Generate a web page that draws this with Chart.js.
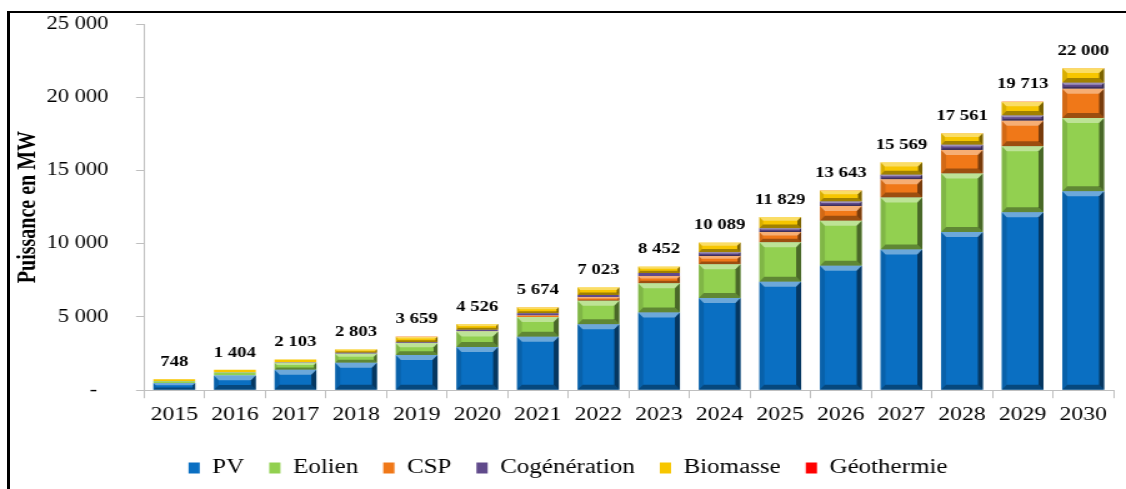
<!DOCTYPE html>
<html>
<head>
<meta charset="utf-8">
<script src="https://cdn.jsdelivr.net/npm/chart.js@4.4.1/dist/chart.umd.min.js"></script>
<style>
  html, body { margin: 0; padding: 0; background: #fff; overflow: hidden; }
  body { width: 1126px; height: 489px; position: relative; }
  /* the source picture is stretched horizontally, so the chart is drawn narrower and scaled */
  #wrap { position: absolute; left: 0; top: 0; width: 901px; height: 489px;
          transform: scaleX(1.2497); transform-origin: 0 0; }
  #frame { position: absolute; left: 7px; top: 11px; right: -10px; bottom: -10px;
           border-left: 3px solid #000; border-top: 2px solid #000; pointer-events: none; }
</style>
</head>
<body>
<div id="wrap"><canvas id="chart"></canvas></div>
<div id="frame"></div>
<script>
// --- DATA ---
const years = ['2015', '2016', '2017', '2018', '2019', '2020', '2021', '2022',
               '2023', '2024', '2025', '2026', '2027', '2028', '2029', '2030'];
const pv          = [500, 1000, 1400, 1870, 2400, 2950, 3650, 4500, 5300, 6300, 7400, 8500, 9600, 10800, 12150, 13575];
const eolien      = [110, 200, 470, 620, 800, 1050, 1350, 1600, 2000, 2300, 2700, 3075, 3550, 4000, 4500, 5010];
const csp         = [2, 1, 2, 2, 2, 25, 100, 250, 500, 570, 700, 1000, 1250, 1600, 1750, 2000];
const cogen       = [15, 22, 40, 60, 75, 100, 150, 150, 200, 250, 250, 300, 300, 350, 350, 400];
const biomasse    = [120, 180, 190, 250, 380, 398, 420, 520, 447, 664, 774, 760, 859, 799, 949, 1000];
const geothermie  = [1, 1, 1, 1, 2, 3, 4, 3, 5, 5, 5, 8, 10, 12, 14, 15];
const totals      = [748, 1404, 2103, 2803, 3659, 4526, 5674, 7023, 8452, 10089, 11829, 13643, 15569, 17561, 19713, 22000];
const yTicks      = [0, 5000, 10000, 15000, 20000, 25000];

// --- STYLE ---
const SERIF = '"Liberation Serif", "Times New Roman", serif';
const STRETCH = 1.2497;
const AXIS_GREY = '#bfbfbf';

Chart.defaults.font.family = SERIF;
Chart.defaults.color = '#000';

function fmt(v) {
    return String(v).replace(/\B(?=(\d{3})+(?!\d))/g, ' ');
}

// nudge the legend a little to the right, as in the source
const legendShift = {
    id: 'legendShift',
    afterLayout(chart) {
        if (chart.legend) {
            chart.legend.left += 9;
            chart.legend.right += 9;
        }
    }
};

// bevelled look of the bars + totals above each stack
const bevelAndTotals = {
    id: 'bevelAndTotals',
    afterDatasetsDraw(chart) {
        const ctx = chart.ctx;
        const metas = chart.getSortedVisibleDatasetMetas();
        ctx.save();
        metas.forEach(meta => {
            meta.data.forEach(el => {
                const p = el.getProps(['x', 'y', 'base', 'width'], true);
                const l = p.x - p.width / 2, r = p.x + p.width / 2;
                const t = Math.min(p.y, p.base), b = Math.max(p.y, p.base);
                const h = b - t;
                if (h < 3) return;
                const bv = Math.min(5, h / 3);
                const bx = bv / STRETCH;
                const quad = (pts, col) => {
                    ctx.beginPath();
                    ctx.moveTo(pts[0], pts[1]);
                    for (let i = 2; i < pts.length; i += 2) ctx.lineTo(pts[i], pts[i + 1]);
                    ctx.closePath();
                    ctx.fillStyle = col;
                    ctx.fill();
                };
                quad([l, t, r, t, r - bx, t + bv, l + bx, t + bv], 'rgba(255,255,255,0.4)');
                quad([l, b, r, b, r - bx, b - bv, l + bx, b - bv], 'rgba(0,0,0,0.35)');
                quad([r, t, r, b, r - bx, b - bv, r - bx, t + bv], 'rgba(0,0,0,0.5)');
                quad([l, t, l, b, l + bx, b - bv, l + bx, t + bv], 'rgba(0,0,0,0.12)');
            });
        });

        const topMeta = metas[metas.length - 1];
        ctx.font = 'bold 15px ' + SERIF;
        ctx.fillStyle = '#000';
        ctx.textAlign = 'center';
        ctx.textBaseline = 'middle';
        topMeta.data.forEach((el, i) => {
            ctx.fillText(fmt(totals[i]), el.x, el.y - 17);
        });
        ctx.restore();
    }
};

const series = [
    { label: 'PV',           data: pv,         color: '#0a6fc2' },
    { label: 'Eolien',       data: eolien,     color: '#92d050' },
    { label: 'CSP',          data: csp,        color: '#f07818' },
    { label: 'Cogénération', data: cogen,      color: '#604a8b' },
    { label: 'Biomasse',     data: biomasse,   color: '#f7c600' },
    { label: 'Géothermie',   data: geothermie, color: '#ff0000' }
];

const ctx = document.getElementById('chart').getContext('2d');
new Chart(ctx, {
    type: 'bar',
    data: {
        labels: years,
        datasets: series.map(s => ({
            label: s.label,
            data: s.data,
            backgroundColor: s.color,
            borderWidth: 0,
            categoryPercentage: 1,
            barPercentage: 0.69
        }))
    },
    options: {
        responsive: true,
        maintainAspectRatio: false,
        animation: false,
        layout: { padding: { top: 24, right: 10, bottom: 1, left: 0 } },
        plugins: {
            legend: {
                position: 'bottom',
                labels: {
                    boxWidth: 9,
                    boxHeight: 11,
                    padding: 20,
                    color: '#000',
                    font: { family: SERIF, size: 20 }
                }
            },
            tooltip: { enabled: false }
        },
        scales: {
            x: {
                stacked: true,
                afterFit: s => { s.height += 7; },
                grid: { drawOnChartArea: false, tickLength: 8, color: AXIS_GREY },
                border: { color: AXIS_GREY },
                ticks: { color: '#000', padding: 5, font: { family: SERIF, size: 19 } }
            },
            y: {
                stacked: true,
                min: 0,
                max: 25000,
                afterBuildTicks: s => { s.ticks = yTicks.map(v => ({ value: v })); },
                afterFit: s => {
                    s.width = 115.2;
                    s.paddingTop = 10;
                    s.paddingBottom = 10;
                },
                grid: { drawOnChartArea: false, tickLength: 6.4, color: AXIS_GREY },
                border: { color: AXIS_GREY },
                ticks: {
                    color: '#000',
                    padding: 22,
                    font: { family: SERIF, size: 18 },
                    callback: v => v === 0 ? '-\u00a0\u00a0' : fmt(v)
                },
                title: {
                    display: true,
                    text: 'Puissance en MW',
                    color: '#000',
                    padding: { top: 11, bottom: 0 },
                    font: { family: SERIF, size: 20, weight: 'bold' }
                }
            }
        }
    },
    plugins: [legendShift, bevelAndTotals]
});
</script>
</body>
</html>
